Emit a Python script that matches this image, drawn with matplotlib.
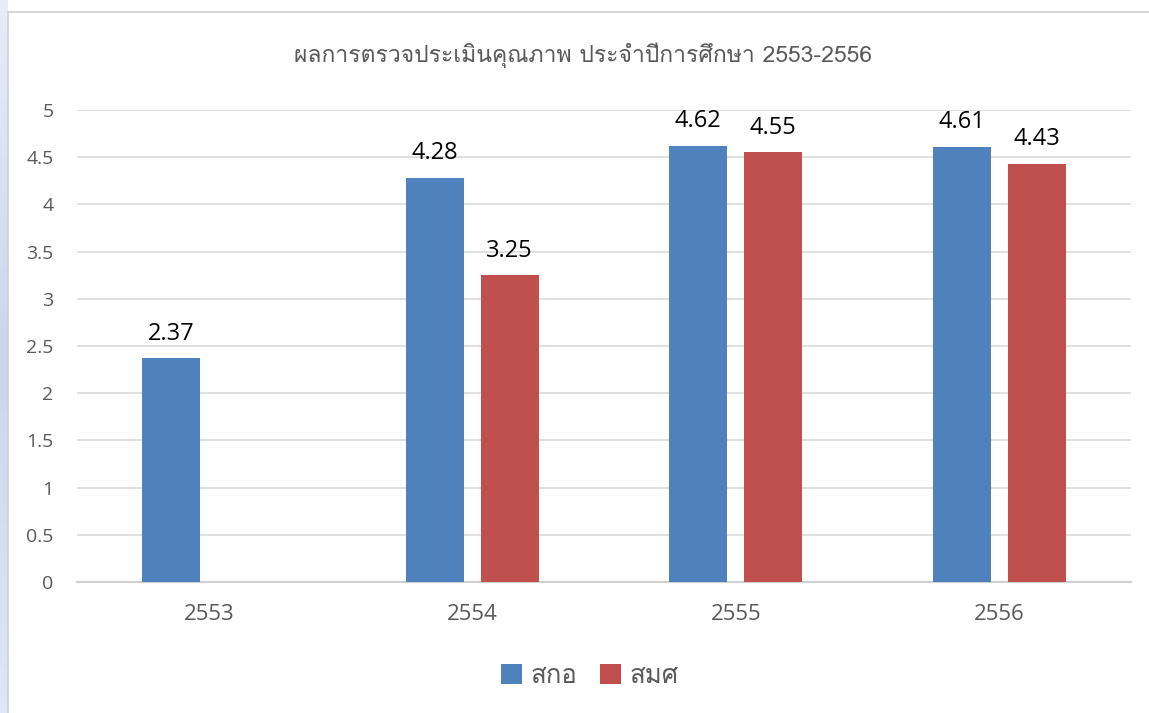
import matplotlib

matplotlib.use("Agg")
import matplotlib.pyplot as plt
import numpy as np
from matplotlib import font_manager
from matplotlib.ft2font import FT2Font


def _thai_fonts() -> list[str]:
    """หา family ที่มีอักษรไทย (ก = U+0E01)"""
    found = []
    for f in font_manager.fontManager.ttflist:
        try:
            cmap = FT2Font(f.fname).get_charmap()
        except Exception:
            continue
        if 0x0E01 in cmap and f.name not in found:
            found.append(f.name)
    return found


THAI = _thai_fonts()
LATIN = "Open Sans"
FAMILY = [LATIN] + THAI + ["DejaVu Sans"]
THAI_FAMILY = THAI + [LATIN, "DejaVu Sans"]
plt.rcParams["font.family"] = FAMILY

# ข้อมูล
years = ["2553", "2554", "2555", "2556"]
series_names = ["สกอ", "สมศ"]
sko = [2.37, 4.28, 4.62, 4.61]
smsh = [np.nan, 3.25, 4.55, 4.43]
title = "ผลการตรวจประเมินคุณภาพ ประจำปีการศึกษา 2553-2556"

BLUE = "#4F81BD"
RED = "#C0504D"
GRAY = "#595959"

fig = plt.figure(figsize=(11.49, 7.13), dpi=100)
fig.patch.set_facecolor("white")

# กรอบด้านซ้าย/บน แบบภาพหน้าจอ
grad = np.linspace(0, 1, 64).reshape(-1, 1)
bg = fig.add_axes([0, 0, 8 / 1149, 1])
bg.imshow(grad, aspect="auto", cmap=matplotlib.colors.LinearSegmentedColormap.from_list(
    "edge", ["#E6EDF8", "#C9D6EE", "#DDE7F5"]), extent=[0, 1, 0, 1])
bg.set_axis_off()
fig.add_artist(plt.Line2D([8 / 1149, 8 / 1149], [0, 1 - 12 / 713], color="#D0D0D0", lw=1.2))
fig.add_artist(plt.Line2D([8 / 1149, 1], [1 - 12 / 713, 1 - 12 / 713], color="#D0D0D0", lw=1.2))

ax = fig.add_axes([77 / 1149, 131 / 713, 1054 / 1149, 472 / 713])
x = np.arange(len(years))
w = 0.22
off = 0.1423
b1 = ax.bar(x - off, sko, w, color=BLUE, label=series_names[0], zorder=3)
b2 = ax.bar(x + off, smsh, w, color=RED, label=series_names[1], zorder=3)

for bars, vals in ((b1, sko), (b2, smsh)):
    for rect, v in zip(bars, vals):
        if np.isnan(v):
            continue
        ax.annotate(f"{v:.2f}", (rect.get_x() + rect.get_width() / 2, v),
                    xytext=(0, 9), textcoords="offset points", ha="center",
                    va="bottom", fontsize=17, color="black", family=FAMILY)

ax.set_xlim(-0.5, 3.5)
ax.set_ylim(0, 5)
ax.set_yticks(np.arange(0, 5.01, 0.5))
ax.set_yticklabels(["0", "0.5", "1", "1.5", "2", "2.5", "3", "3.5", "4", "4.5", "5"])
ax.set_xticks(x)
ax.set_xticklabels(years)
ax.tick_params(axis="y", length=0, pad=17, labelsize=14, labelcolor=GRAY)
ax.tick_params(axis="x", length=0, pad=16, labelsize=16, labelcolor=GRAY)
ax.grid(axis="y", color="#D9D9D9", lw=1.2, zorder=0)
ax.set_axisbelow(True)
for s in ("top", "right", "left"):
    ax.spines[s].set_visible(False)
ax.spines["bottom"].set_color("#D0D0D0")
ax.spines["bottom"].set_linewidth(1.5)

fig.text(583 / 1149, 1 - 55 / 713, title, ha="center", va="center",
         fontsize=16.5, color=GRAY, family=THAI_FAMILY)

fig.legend(handles=[b1, b2], loc="center", bbox_to_anchor=(590 / 1149, 1 - 676 / 713),
           ncol=2, frameon=False, prop={"family": THAI_FAMILY, "size": 18.5},
           labelcolor=GRAY, handlelength=0.8, handleheight=0.8, handletextpad=0.35,
           columnspacing=0.9)

fig.savefig("out.png", dpi=100)
